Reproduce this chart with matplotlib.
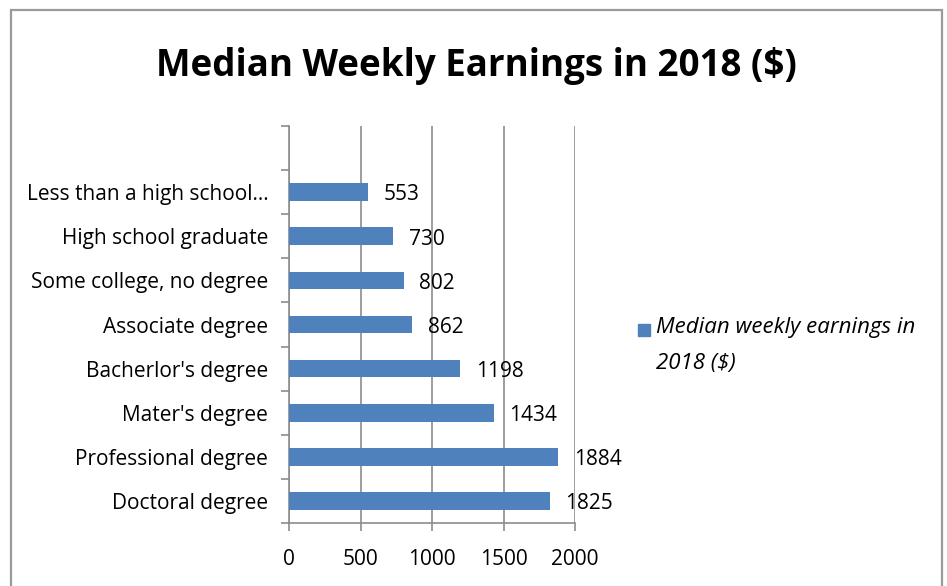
import matplotlib
matplotlib.use("Agg")
import matplotlib.pyplot as plt
from matplotlib.patches import Rectangle
import numpy as np

categories = ["Doctoral degree", "Professional degree", "Mater's degree",
              "Bacherlor's degree", "Associate degree", "Some college, no degree",
              "High school graduate", "Less than a high school..."]
values = [1825, 1884, 1434, 1198, 862, 802, 730, 553]
xticks = [0, 500, 1000, 1500, 2000]
title = "Median Weekly Earnings in 2018 ($)"

BAR = "#4F81BD"
GRID = "#8C8C8C"
FONT = ["Open Sans", "DejaVu Sans"]

plt.rcParams['font.family'] = FONT

fig = plt.figure(figsize=(9.47, 5.86), dpi=100)
W, H = 947, 586

# outer frame
fig.patches.append(Rectangle((11 / W, -0.05), (942 - 11) / W, 1.05 - 10 / H,
                             transform=fig.transFigure, fill=False,
                             edgecolor="#9a9a9a", linewidth=1.6))

ax = fig.add_axes([289 / W, 1 - 523 / H, (575 - 289) / W, (523 - 126) / H])
y = np.arange(len(categories))
ax.barh(y, values, height=0.4, color=BAR, zorder=3)

ax.set_xlim(0, 2000)
ax.set_ylim(-0.5, len(categories) + 0.5)
ax.set_xticks(xticks)
ax.set_xticklabels([str(t) for t in xticks], fontsize=15)
ax.set_yticks(y)
ax.set_yticklabels(categories, fontsize=15)
ax.set_yticks(np.arange(-0.5, len(categories) + 1, 1), minor=True)
ax.tick_params(axis='y', which='major', length=0, pad=15)
ax.tick_params(axis='y', which='minor', length=6, color=GRID, width=1.2)
ax.tick_params(axis='x', length=6, color=GRID, width=1.2, pad=13)

ax.grid(axis='x', color=GRID, linewidth=1.2, zorder=0)
for s in ['top', 'right']:
    ax.spines[s].set_visible(False)
for s in ['left', 'bottom']:
    ax.spines[s].set_color(GRID)
    ax.spines[s].set_linewidth(1.2)

for yi, v in zip(y, values):
    ax.annotate(str(v), (v, yi), xytext=(11, -2), textcoords='offset points',
                ha='left', va='center', fontsize=15, zorder=4)

fig.text(476 / W, 1 - 66 / H, title, ha='center', va='center',
         fontsize=26.5, fontweight='bold')

# legend
fig.patches.append(Rectangle((638 / W, 1 - 336 / H), 12 / W, 12 / H,
                             transform=fig.transFigure, color=BAR))
fig.text(656 / W, 1 - 328 / H, "Median weekly earnings in", ha='left',
         va='center', fontsize=16, style='italic')
fig.text(656 / W, 1 - 364 / H, "2018 ($)", ha='left',
         va='center', fontsize=16, style='italic')

fig.savefig("out.png", dpi=100)
